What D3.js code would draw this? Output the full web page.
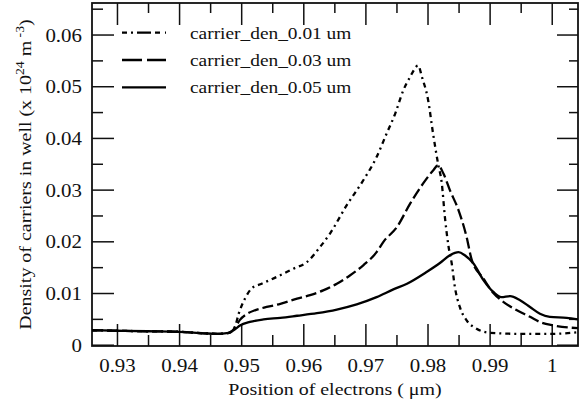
<!DOCTYPE html>
<html>
<head>
<meta charset="utf-8">
<script src="https://cdn.jsdelivr.net/npm/d3@7"></script>
<style>
  body { margin: 0; background: #fff; }
</style>
</head>
<body>
<div id="chart"></div>
<script>
// series names
const seriesNames = ["carrier_den_0.01 um", "carrier_den_0.03 um", "carrier_den_0.05 um"]

// 0.01 um (dash-dot)
const pos001 = [0.926, 0.930, 0.935, 0.940, 0.944, 0.946, 0.948, 0.9490, 0.9496, 0.9506, 0.9517, 0.9533, 0.9557, 0.9584, 0.9606, 0.9627, 0.9643, 0.9670, 0.9695, 0.9718, 0.9734, 0.9748, 0.9761, 0.9772, 0.9785, 0.9791, 0.9801, 0.9809, 0.9817, 0.9823, 0.9828, 0.9834, 0.9839, 0.9844, 0.9852, 0.9863, 0.9879, 0.9901, 0.9950, 1.0000, 1.0042]
const den001 = [0.0028, 0.0027, 0.0026, 0.0025, 0.0022, 0.0021, 0.0023, 0.0035, 0.0060, 0.0089, 0.0109, 0.0118, 0.0131, 0.0147, 0.0160, 0.0189, 0.0215, 0.0270, 0.0315, 0.0363, 0.0408, 0.0447, 0.0492, 0.0518, 0.0540, 0.0518, 0.0473, 0.0408, 0.0350, 0.0312, 0.0247, 0.0189, 0.0157, 0.0112, 0.0073, 0.0047, 0.0031, 0.0023, 0.0021, 0.0021, 0.0024]

// 0.03 um (dashed)
const pos003 = [0.926, 0.930, 0.935, 0.940, 0.944, 0.946, 0.948, 0.9490, 0.9498, 0.9510, 0.9523, 0.9541, 0.9563, 0.9590, 0.9611, 0.9632, 0.9654, 0.9675, 0.9697, 0.9718, 0.9729, 0.9751, 0.9772, 0.9793, 0.9809, 0.9817, 0.9826, 0.9836, 0.9850, 0.9863, 0.9871, 0.9890, 0.9906, 0.9922, 0.9944, 0.9965, 0.9981, 1.0002, 1.0042]
const den003 = [0.0028, 0.0027, 0.0026, 0.0025, 0.0022, 0.0021, 0.0023, 0.0033, 0.0048, 0.0060, 0.0067, 0.0073, 0.0079, 0.0089, 0.0096, 0.0105, 0.0118, 0.0134, 0.0154, 0.0179, 0.0199, 0.0228, 0.0273, 0.0312, 0.0337, 0.0347, 0.0330, 0.0299, 0.0260, 0.0208, 0.0165, 0.0128, 0.0100, 0.0083, 0.00665, 0.0054, 0.0044, 0.00375, 0.0032]

// 0.05 um (solid)
const pos005 = [0.926, 0.930, 0.935, 0.940, 0.944, 0.946, 0.948, 0.9490, 0.9498, 0.9514, 0.9536, 0.9563, 0.9590, 0.9622, 0.9654, 0.9686, 0.9718, 0.9745, 0.9767, 0.9799, 0.9820, 0.9836, 0.9850, 0.9860, 0.9874, 0.9890, 0.9906, 0.9919, 0.9933, 0.9949, 0.9965, 0.9981, 0.9997, 1.0024, 1.0042]
const den005 = [0.0028, 0.0027, 0.0026, 0.0025, 0.0022, 0.0021, 0.0023, 0.0030, 0.0037, 0.0044, 0.0049, 0.0052, 0.0056, 0.0061, 0.0068, 0.0078, 0.0092, 0.0107, 0.0118, 0.0141, 0.0158, 0.0173, 0.0179, 0.0173, 0.0157, 0.0125, 0.0102, 0.0092, 0.0094, 0.0086, 0.0073, 0.0060, 0.0054, 0.0052, 0.0049]

// ticks
const xTicks = [0.93, 0.94, 0.95, 0.96, 0.97, 0.98, 0.99, 1]
const xTickLabels = ["0.93", "0.94", "0.95", "0.96", "0.97", "0.98", "0.99", "1"]
const xMinor = [0.935, 0.945, 0.955, 0.965, 0.975, 0.985, 0.995]
const yTicks = [0, 0.01, 0.02, 0.03, 0.04, 0.05, 0.06]
const yTickLabels = ["0", "0.01", "0.02", "0.03", "0.04", "0.05", "0.06"]
const yMinor = [0.005, 0.015, 0.025, 0.035, 0.045, 0.055, 0.065]

const W = 579, H = 408
const margin = {top: 3, right: 1, bottom: 62, left: 92}
const width = W - margin.left - margin.right,
      height = H - margin.top - margin.bottom

const FONT = "Liberation Serif"

const svg = d3.select("#chart").append("svg")
  .attr("width", W).attr("height", H)

const g = svg.append("g")
  .attr("transform", `translate(${margin.left},${margin.top})`)

const x = d3.scaleLinear().domain([0.92598, 1.00423]).range([0, width])
const y = d3.scaleLinear().domain([-0.00025, 0.0661]).range([height, 0])

// text is a bit wider than plain Times in the original
const stretch = 1.1

function tickAxis(axis, vals, size, labels) {
  return axis.tickValues(vals).tickSizeInner(size).tickSizeOuter(0)
    .tickFormat(labels ? ((d, i) => labels[i]) : "")
}

// bottom
const gx = g.append("g").attr("transform", `translate(0,${height})`)
  .call(tickAxis(d3.axisBottom(x), xTicks, -22, xTickLabels))
gx.selectAll("text")
  .attr("x", null).attr("y", null).attr("dy", null)
  .attr("transform", `translate(0,26) scale(${stretch},1)`)
g.append("g").attr("transform", `translate(0,${height})`)
  .call(tickAxis(d3.axisBottom(x), xMinor, -11))
// top
g.append("g").call(tickAxis(d3.axisTop(x), xTicks, -22))
g.append("g").call(tickAxis(d3.axisTop(x), xMinor, -10))
// left
const gy = g.append("g")
  .call(tickAxis(d3.axisLeft(y), yTicks, -22, yTickLabels))
gy.selectAll("text")
  .attr("x", null).attr("dy", null)
  .attr("transform", `translate(-10,6.5) scale(${stretch},1)`)
g.append("g").call(tickAxis(d3.axisLeft(y), yMinor, -11))
// right
g.append("g").attr("transform", `translate(${width},0)`)
  .call(tickAxis(d3.axisRight(y), yTicks, -21))
g.append("g").attr("transform", `translate(${width},0)`)
  .call(tickAxis(d3.axisRight(y), yMinor, -9))

g.selectAll(".domain").remove()
g.selectAll(".tick line").attr("stroke", "#111").attr("stroke-width", 1.5)
g.selectAll(".tick text").attr("font-size", 19).attr("fill", "#111")

g.append("rect")
  .attr("width", width).attr("height", height)
  .attr("fill", "none").attr("stroke", "#111").attr("stroke-width", 1.8)

// curves
const series = [
  {name: seriesNames[0], xs: pos001, ys: den001, dash: "5,4,2,4", legendDash: "5,4,2,4,14,4,5"},
  {name: seriesNames[1], xs: pos003, ys: den003, dash: "11,4", legendDash: "20,5"},
  {name: seriesNames[2], xs: pos005, ys: den005, dash: null, legendDash: null}
]

const line = d3.line()
  .x(d => x(d[0])).y(d => y(d[1]))
  .curve(d3.curveMonotoneX)

svg.append("clipPath").attr("id", "clip")
  .append("rect").attr("width", width).attr("height", height)

g.append("g").attr("clip-path", "url(#clip)")
  .selectAll("path")
  .data(series)
  .enter()
  .append("path")
    .attr("d", s => line(d3.zip(s.xs, s.ys)))
    .attr("fill", "none")
    .attr("stroke", "#000")
    .attr("stroke-width", 2.3)
    .attr("stroke-dasharray", s => s.dash)

// legend
const leg = g.selectAll(".leg").data(series).enter().append("g")
  .attr("class", "leg")
  .attr("transform", (s, i) => `translate(30,${29.7 + i * 27.3})`)
leg.append("line")
  .attr("x1", 0).attr("x2", 44)
  .attr("stroke", "#000").attr("stroke-width", 2.3)
  .attr("stroke-dasharray", s => s.legendDash)
leg.append("text")
  .attr("transform", `translate(68,6) scale(1.14,1)`)
  .attr("font-size", 17)
  .text(s => s.name)

// axis titles
svg.append("text")
  .attr("transform", `translate(${margin.left + width / 2},395) scale(1.14,1)`)
  .attr("text-anchor", "middle")
  .attr("font-size", 17.5)
  .text("Position of electrons ( μm)")

const yt = svg.append("text")
  .attr("transform", `translate(31,${margin.top + height / 2}) rotate(-90) scale(1.14,1)`)
  .attr("text-anchor", "middle")
  .attr("font-size", 17.5)
yt.append("tspan").text("Density of carriers in well (x 10")
yt.append("tspan").attr("dy", -7).attr("font-size", 12).text("24")
yt.append("tspan").attr("dy", 7).text(" m")
yt.append("tspan").attr("dy", -7).attr("font-size", 12).text(" -3")
yt.append("tspan").attr("dy", 7).text(")")

// every text in the serif face, overriding d3's axis default
svg.selectAll("g").attr("font-family", FONT)
svg.selectAll("text").attr("font-family", FONT).attr("fill", "#111")
</script>
</body>
</html>
